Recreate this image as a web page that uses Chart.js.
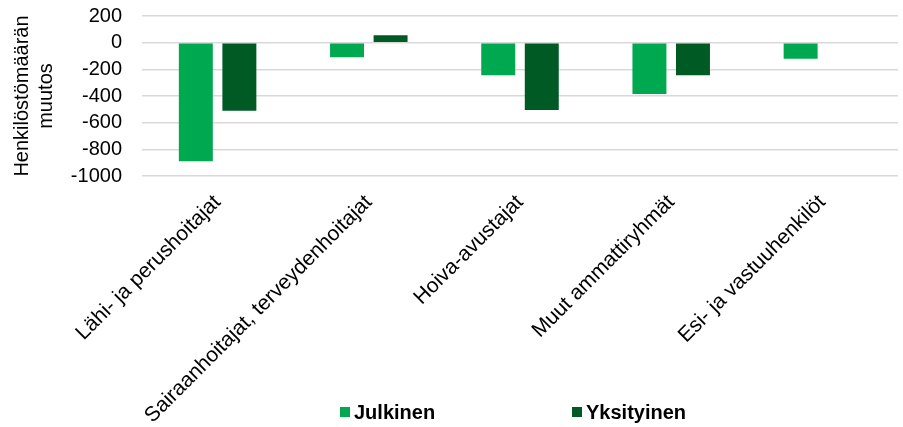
<!DOCTYPE html>
<html lang="fi">
<head>
<meta charset="utf-8">
<script src="https://cdn.jsdelivr.net/npm/chart.js@4.4.0/dist/chart.umd.min.js"></script>
<style>
  html, body { margin: 0; padding: 0; background: #fff; }
  #wrap { position: relative; width: 903px; height: 427px; }
  #legend { position: absolute; top: 401px; left: 0; width: 903px; height: 22px; font: bold 20px "Liberation Sans", Arial, sans-serif; color: #000; }
  .leg-item { position: absolute; top: 0; display: flex; align-items: center; height: 22px; }
  .leg-box { width: 10px; height: 10px; margin-right: 4px; }
</style>
</head>
<body>
<div id="wrap">
  <canvas id="chart" width="903" height="427"></canvas>
  <div id="legend"></div>
</div>
<script>
const kategoriat = [
  "Lähi- ja perushoitajat",
  "Sairaanhoitajat, terveydenhoitajat",
  "Hoiva-avustajat",
  "Muut ammattiryhmät",
  "Esi- ja vastuuhenkilöt"
];
const julkinen = [-890, -110, -245, -385, -120];
const yksityinen = [-510, 55, -505, -245, 0];
const sarjat = ["Julkinen", "Yksityinen"];
const varit = ["#00a950", "#005a24"];

const fontti = "'Liberation Sans', Arial, sans-serif";

const chart = new Chart(document.getElementById("chart"), {
  type: "bar",
  data: {
    labels: kategoriat,
    datasets: [
      { label: sarjat[0], data: julkinen, backgroundColor: varit[0] },
      { label: sarjat[1], data: yksityinen, backgroundColor: varit[1] }
    ]
  },
  options: {
    responsive: false,
    animation: false,
    devicePixelRatio: 1,
    layout: { padding: { top: 16, right: 5, left: 0, bottom: 0 } },
    datasets: { bar: { categoryPercentage: 0.576, barPercentage: 0.78 } },
    plugins: {
      legend: { display: false },
      tooltip: { enabled: false }
    },
    scales: {
      x: {
        grid: { display: false, drawTicks: false },
        border: { display: false },
        ticks: {
          autoSkip: false,
          maxRotation: 45,
          minRotation: 45,
          padding: 14,
          color: "#000",
          font: { family: fontti, size: 21 }
        },
        afterFit: scale => { scale.height = 251; }
      },
      y: {
        min: -1000,
        max: 200,
        ticks: {
          stepSize: 200,
          autoSkip: false,
          padding: 0,
          color: "#000",
          font: { family: fontti, size: 20 },
          callback: value => String(value)
        },
        grid: { color: "#d9d9d9", lineWidth: 1.5, drawTicks: true, tickLength: 20, tickColor: "rgba(0,0,0,0)" },
        border: { display: false },
        title: {
          display: true,
          text: ["Henkilöstömäärän", "muutos"],
          color: "#000",
          padding: { top: 10, bottom: 0 },
          font: { family: fontti, size: 20, lineHeight: 1.2 }
        },
        afterFit: scale => { scale.width = 142; }
      }
    }
  }
});

// legenda html:nä, jotta välit saadaan kuten alkuperäisessä
const legenda = document.querySelector("#legend");
const paikat = [340, 572];
legenda.innerHTML = chart.data.datasets.map((ds, i) => `
  <div class="leg-item" style="left:${paikat[i]}px">
    <span class="leg-box" style="background:${ds.backgroundColor}"></span>${ds.label}
  </div>
`).join("");
</script>
</body>
</html>
